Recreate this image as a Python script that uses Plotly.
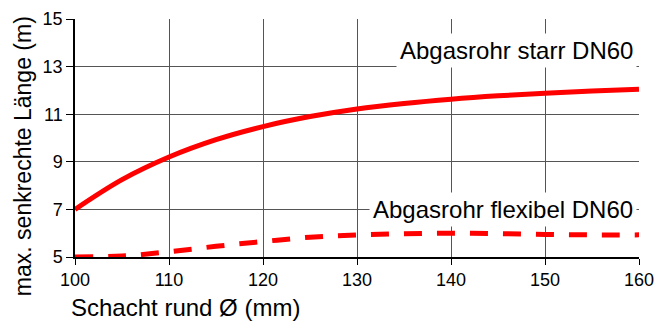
import plotly.graph_objects as go

# Data
x_mm = [100, 105, 110, 115, 120, 125, 130, 135, 140, 145, 150, 155, 160]
starr = [7.0, 8.25, 9.2, 9.93, 10.48, 10.9, 11.22, 11.45, 11.63, 11.77, 11.88, 11.97, 12.05]
flexibel = [5.0, 5.04, 5.22, 5.45, 5.65, 5.83, 5.93, 5.98, 6.0, 5.98, 5.95, 5.93, 5.93]

label_starr = "Abgasrohr starr DN60"
label_flex = "Abgasrohr flexibel DN60"
x_title = "Schacht rund Ø (mm)"
y_title = "max. senkrechte Länge (m)"
x_ticks = [100, 110, 120, 130, 140, 150, 160]
y_ticks = [5, 7, 9, 11, 13, 15]

FONT = "Liberation Sans, Arial, sans-serif"
RED = "#ff0000"
GRID = "#555555"

fig = go.Figure()
fig.add_trace(go.Scatter(x=x_mm, y=starr, mode="lines", line=dict(color=RED, width=5, shape="spline"),
                         name=label_starr, showlegend=False, hoverinfo="x+y"))
fig.add_trace(go.Scatter(x=x_mm, y=flexibel, mode="lines",
                         line=dict(color=RED, width=5, shape="spline", dash="18px,15px"),
                         name=label_flex, showlegend=False, hoverinfo="x+y"))

fig.add_annotation(x=159.75, y=13.67, xref="x", yref="y", text=label_starr, showarrow=False,
                   xanchor="right", yanchor="middle", font=dict(family=FONT, size=24, color="black"),
                   bgcolor="white", borderpad=3)
fig.add_annotation(x=159.75, y=7.0, xref="x", yref="y", text=label_flex, showarrow=False,
                   xanchor="right", yanchor="middle", font=dict(family=FONT, size=24, color="black"),
                   bgcolor="white", borderpad=3)

# Axis titles placed as in the reference (x title left-aligned, y title shifted down)
fig.add_annotation(x=0, y=0, xref="paper", yref="paper", text=x_title, showarrow=False,
                   xanchor="left", yanchor="middle", xshift=-6, yshift=-50,
                   font=dict(family=FONT, size=24, color="black"))
fig.add_annotation(x=0, y=0.4217, xref="paper", yref="paper", text=y_title, showarrow=False,
                   textangle=-90, xanchor="center", yanchor="middle", xshift=-52.5,
                   font=dict(family=FONT, size=23, color="black"))

# The page body adds an 8px offset, so the figure is 8px smaller and margins compensate
fig.update_layout(
    width=663, height=314,
    margin=dict(l=67, r=32, t=11, b=65, autoexpand=False),
    paper_bgcolor="white", plot_bgcolor="white",
    font=dict(family=FONT, color="black"),
    xaxis=dict(range=[100, 160], tickvals=x_ticks, ticks="outside", ticklen=6, tickcolor="black",
               showgrid=True, gridcolor=GRID, gridwidth=1, showline=True, linecolor="black", linewidth=1.5,
               zeroline=False, tickfont=dict(size=18, family=FONT)),
    yaxis=dict(range=[5, 15], tickvals=y_ticks, ticks="outside", ticklen=7, tickcolor="black",
               showgrid=True, gridcolor=GRID, gridwidth=1, showline=True, linecolor="black", linewidth=1.5,
               zeroline=False, tickfont=dict(size=18, family=FONT)),
)

fig.write_html("out.html")
